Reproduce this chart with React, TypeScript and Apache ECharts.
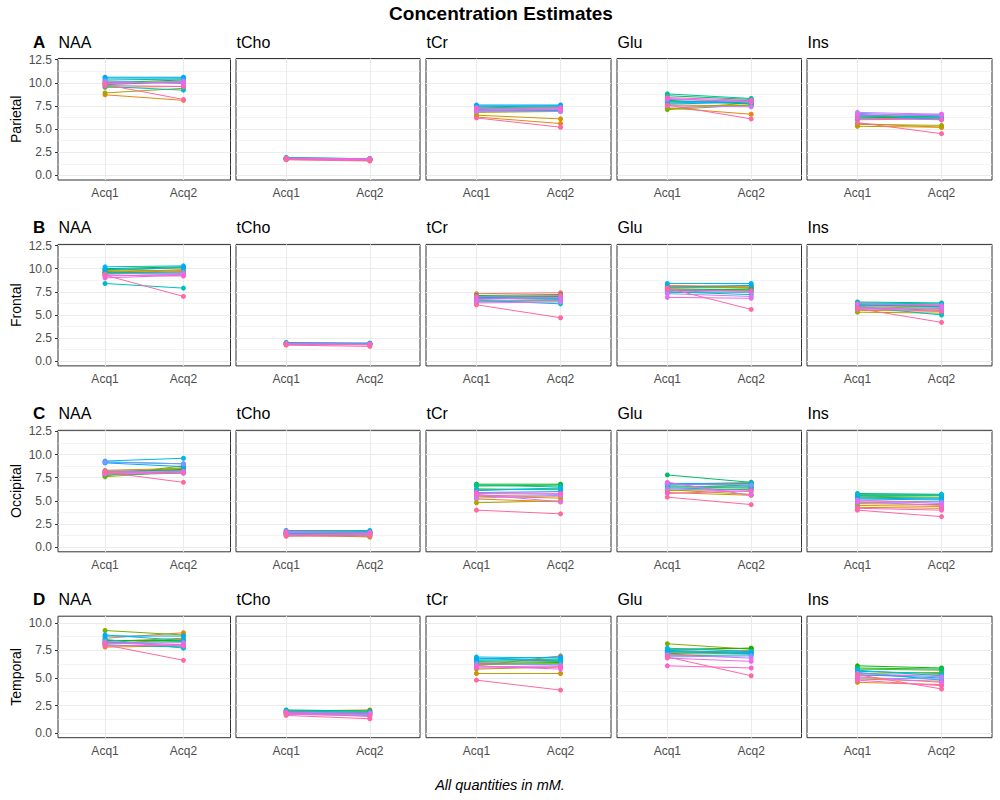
import React, { useEffect, useRef } from "react";
import * as echarts from "echarts";

// ---------- labels ----------
const TITLE = "Concentration Estimates";
const CAPTION = "All quantities in mM.";
const REGIONS = ["Parietal", "Frontal", "Occipital", "Temporal"];
const TAGS = ["A", "B", "C", "D"];
const METABOLITES = ["NAA", "tCho", "tCr", "Glu", "Ins"];
const ACQ_LABELS = ["Acq1", "Acq2"];
const Y_TICKS_ABC = [0, 2.5, 5, 7.5, 10, 12.5];
const Y_TICKS_D = [0, 2.5, 5, 7.5, 10];
const Y_MINOR_ABC = [1.25, 3.75, 6.25, 8.75, 11.25];
const Y_MINOR_D = [1.25, 3.75, 6.25, 8.75];
const N_SUBJECTS = 16;

// ---------- data: [Acq1 values, Acq2 values] per subject ----------
const parietal_NAA = [
  [9.9, 8.7, 9.5, 8.9, 10.1, 10.0, 9.8, 10.3, 9.6, 10.5, 10.6, 10.2, 9.9, 10.0, 9.7, 9.8],
  [10.1, 8.1, 9.6, 9.4, 10.0, 10.3, 10.1, 10.4, 9.2, 10.5, 10.6, 9.9, 10.2, 10.0, 9.6, 8.2],
];
const parietal_tCho = [
  [1.8, 1.7, 1.8, 1.75, 1.85, 1.9, 1.8, 1.75, 1.8, 1.85, 1.9, 1.8, 1.75, 1.85, 1.8, 1.7],
  [1.7, 1.6, 1.75, 1.7, 1.75, 1.8, 1.7, 1.7, 1.75, 1.8, 1.8, 1.7, 1.65, 1.8, 1.7, 1.55],
];
const parietal_tCr = [
  [6.9, 6.3, 6.5, 6.8, 7.0, 7.2, 7.4, 7.3, 7.1, 7.5, 7.6, 7.0, 6.9, 7.3, 7.2, 6.2],
  [7.0, 5.6, 6.1, 6.9, 7.1, 7.3, 7.5, 7.4, 7.0, 7.5, 7.6, 7.2, 6.9, 7.1, 7.3, 5.2],
];
const parietal_Glu = [
  [7.9, 7.3, 7.6, 7.2, 7.1, 8.1, 8.6, 8.8, 7.8, 8.0, 7.7, 8.2, 7.5, 8.3, 8.4, 7.6],
  [8.0, 6.6, 7.5, 7.8, 7.6, 7.7, 8.2, 8.3, 8.1, 7.8, 7.9, 8.0, 7.4, 7.9, 8.1, 6.1],
];
const parietal_Ins = [
  [6.0, 5.6, 5.3, 5.5, 6.3, 6.2, 6.5, 6.4, 6.3, 6.6, 6.1, 6.7, 6.8, 6.5, 6.2, 5.7],
  [6.1, 5.2, 5.2, 5.4, 6.2, 6.4, 6.3, 6.3, 6.5, 6.0, 6.2, 6.4, 6.6, 6.6, 6.0, 4.5],
];

const frontal_NAA = [
  [9.5, 9.7, 9.6, 9.9, 9.8, 10.0, 9.6, 9.5, 8.4, 10.2, 9.9, 9.4, 9.2, 9.0, 9.3, 9.3],
  [9.8, 9.5, 9.9, 9.7, 10.1, 10.2, 9.6, 9.4, 7.9, 10.3, 10.1, 9.6, 9.4, 9.3, 9.2, 7.0],
];
const frontal_tCho = [
  [1.9, 1.8, 1.9, 1.8, 1.85, 1.95, 1.9, 2.0, 1.85, 1.9, 2.0, 1.8, 1.9, 1.85, 1.9, 1.75],
  [1.85, 1.8, 1.85, 1.8, 1.9, 1.9, 1.85, 1.95, 1.8, 1.9, 1.95, 1.8, 1.85, 1.8, 1.85, 1.6],
];
const frontal_tCr = [
  [7.3, 6.8, 6.5, 6.4, 6.9, 7.1, 7.0, 6.7, 6.6, 6.8, 6.9, 6.5, 6.3, 6.7, 7.0, 6.1],
  [7.4, 6.7, 6.5, 6.6, 7.0, 7.2, 7.0, 6.9, 6.2, 6.7, 6.8, 6.6, 6.4, 6.9, 7.1, 4.7],
];
const frontal_Glu = [
  [8.2, 8.1, 8.0, 7.9, 7.7, 7.6, 7.8, 7.5, 7.4, 8.4, 8.0, 7.6, 7.3, 6.9, 7.7, 7.9],
  [8.0, 8.1, 7.9, 8.0, 7.6, 7.8, 7.7, 7.2, 7.5, 8.4, 8.2, 7.4, 7.0, 6.8, 7.6, 5.6],
];
const frontal_Ins = [
  [6.2, 5.9, 5.5, 5.3, 5.8, 6.1, 6.4, 6.0, 5.9, 6.3, 6.1, 5.6, 5.8, 6.2, 5.7, 5.7],
  [6.1, 5.7, 5.4, 5.2, 5.5, 5.9, 6.3, 5.9, 5.0, 6.2, 6.0, 5.8, 5.6, 6.0, 5.4, 4.2],
];

const occipital_NAA = [
  [8.0, 8.3, 7.9, 7.6, 7.7, 8.1, 7.8, 8.2, 9.2, 9.3, 9.1, 9.2, 8.0, 7.9, 8.2, 8.1],
  [8.1, 8.5, 8.6, 8.2, 8.8, 8.4, 8.0, 8.3, 9.0, 9.6, 8.7, 9.0, 8.2, 8.0, 8.1, 7.0],
];
const occipital_tCho = [
  [1.5, 1.6, 1.2, 1.3, 1.4, 1.7, 1.5, 1.6, 1.4, 1.8, 1.5, 1.3, 1.6, 1.4, 1.7, 1.2],
  [1.6, 1.5, 1.3, 1.1, 1.2, 1.6, 1.5, 1.7, 1.4, 1.8, 1.6, 1.4, 1.5, 1.3, 1.6, 1.2],
];
const occipital_tCr = [
  [5.6, 5.2, 5.5, 4.8, 6.3, 6.8, 6.6, 6.7, 6.2, 6.1, 5.9, 5.8, 5.3, 5.7, 5.9, 4.0],
  [5.5, 4.9, 5.3, 5.0, 6.2, 6.8, 6.7, 6.5, 6.3, 6.4, 6.0, 5.7, 5.6, 4.9, 5.8, 3.6],
];
const occipital_Glu = [
  [6.8, 6.1, 5.9, 6.2, 6.5, 6.9, 7.8, 6.7, 6.4, 6.6, 6.9, 6.8, 6.3, 7.0, 5.8, 5.4],
  [7.0, 6.3, 5.6, 5.7, 6.4, 6.6, 7.0, 6.9, 6.2, 6.5, 6.8, 6.7, 6.0, 5.6, 6.1, 4.6],
];
const occipital_Ins = [
  [5.0, 4.5, 4.3, 4.7, 5.5, 5.6, 5.8, 5.4, 5.2, 5.7, 5.3, 4.8, 5.1, 4.9, 4.2, 4.0],
  [4.9, 4.4, 4.2, 4.6, 5.4, 5.6, 5.7, 5.3, 5.1, 5.7, 5.2, 4.9, 4.7, 4.5, 4.0, 3.3],
];

const temporal_NAA = [
  [8.1, 8.6, 7.8, 8.3, 9.3, 8.4, 8.2, 8.0, 8.5, 8.9, 8.8, 8.3, 8.1, 8.2, 7.9, 8.0],
  [8.5, 9.1, 7.9, 8.6, 8.9, 8.4, 8.3, 7.8, 7.7, 8.4, 8.8, 8.0, 8.2, 7.9, 8.0, 6.6],
];
const temporal_tCho = [
  [1.9, 2.0, 1.8, 1.7, 1.9, 2.0, 2.1, 1.9, 1.8, 2.0, 1.9, 1.8, 1.7, 1.9, 1.8, 1.6],
  [1.8, 2.1, 1.9, 1.6, 1.8, 2.0, 2.0, 1.8, 1.7, 1.9, 1.8, 1.7, 1.6, 1.8, 1.5, 1.3],
];
const temporal_tCr = [
  [6.4, 6.1, 5.4, 5.8, 6.2, 6.3, 6.5, 6.6, 6.8, 6.9, 6.7, 6.3, 6.0, 6.1, 5.9, 4.8],
  [6.5, 7.0, 5.4, 6.0, 6.3, 6.4, 6.6, 6.7, 6.5, 6.8, 6.9, 6.2, 6.1, 5.8, 6.0, 3.9],
];
const temporal_Glu = [
  [7.3, 7.5, 7.1, 7.4, 8.1, 7.6, 7.2, 7.0, 7.5, 7.7, 7.4, 6.9, 7.1, 6.8, 6.1, 6.9],
  [7.5, 7.7, 7.3, 7.2, 7.6, 7.7, 7.4, 7.1, 7.3, 7.4, 7.2, 7.0, 6.8, 6.5, 5.9, 5.2],
];
const temporal_Ins = [
  [5.2, 4.6, 4.9, 5.4, 5.8, 6.1, 5.9, 5.6, 5.3, 5.7, 5.5, 5.0, 5.4, 5.1, 4.8, 5.3],
  [5.3, 4.4, 4.7, 5.5, 5.7, 5.9, 5.8, 5.4, 5.0, 5.2, 4.8, 4.9, 5.1, 4.6, 4.3, 4.0],
];

const DATA = [
  [parietal_NAA, parietal_tCho, parietal_tCr, parietal_Glu, parietal_Ins],
  [frontal_NAA, frontal_tCho, frontal_tCr, frontal_Glu, frontal_Ins],
  [occipital_NAA, occipital_tCho, occipital_tCr, occipital_Glu, occipital_Ins],
  [temporal_NAA, temporal_tCho, temporal_tCr, temporal_Glu, temporal_Ins],
];

// ---------- layout ----------
const FONT = '"Liberation Sans", Arial, Helvetica, sans-serif';
const COL_LEFT = [58, 236, 426, 617, 807];
const COL_W = [172.5, 184, 185, 184.5, 185];
const ROW_TOP = [58.5, 244.4, 430.3, 616.2];
const ROW_H = 121.5;
const Y_RANGE = [
  [-0.5, 12.62],
  [-0.5, 12.62],
  [-0.5, 12.62],
  [-0.42, 10.6],
];

function hclHex(h: number, c: number, l: number): string {
  const hr = (h * Math.PI) / 180;
  const U = c * Math.cos(hr);
  const V = c * Math.sin(hr);
  const Xn = 0.95047, Yn = 1, Zn = 1.08883;
  const d = Xn + 15 * Yn + 3 * Zn;
  const un = (4 * Xn) / d;
  const vn = (9 * Yn) / d;
  const Y = l > 8 ? Math.pow((l + 16) / 116, 3) : l / 903.3;
  const u = U / (13 * l) + un;
  const v = V / (13 * l) + vn;
  const X = (Y * 9 * u) / (4 * v);
  const Z = (Y * (12 - 3 * u - 20 * v)) / (4 * v);
  const lin = [
    3.240479 * X - 1.53715 * Y - 0.498535 * Z,
    -0.969256 * X + 1.875992 * Y + 0.041556 * Z,
    0.055648 * X - 0.204043 * Y + 1.057311 * Z,
  ];
  return (
    "#" +
    lin
      .map((t) => {
        let g = t <= 0.0031308 ? 12.92 * t : 1.055 * Math.pow(t, 1 / 2.4) - 0.055;
        g = Math.max(0, Math.min(1, g));
        return Math.round(g * 255).toString(16).padStart(2, "0");
      })
      .join("")
  );
}

const COLORS = Array.from({ length: N_SUBJECTS }, (_, i) =>
  hclHex(15 + (360 * i) / N_SUBJECTS, 100, 65)
);

function buildOption() {
  const grids: any[] = [];
  const xAxes: any[] = [];
  const yAxes: any[] = [];
  const series: any[] = [];
  const graphics: any[] = [];

  graphics.push({
    type: "text",
    x: 501,
    y: 13,
    style: {
      text: TITLE,
      font: `bold 19px ${FONT}`,
      fill: "#000",
      align: "center",
      verticalAlign: "middle",
    },
  });
  graphics.push({
    type: "text",
    x: 500,
    y: 785,
    style: {
      text: CAPTION,
      font: `italic 14.5px ${FONT}`,
      fill: "#000",
      align: "center",
      verticalAlign: "middle",
    },
  });

  let k = 0;
  for (let r = 0; r < REGIONS.length; r++) {
    const top = ROW_TOP[r];
    const yMajor = r === 3 ? Y_TICKS_D : Y_TICKS_ABC;
    const yMinor = r === 3 ? Y_MINOR_D : Y_MINOR_ABC;

    graphics.push({
      type: "text",
      x: 33,
      y: top - 16.5,
      style: {
        text: TAGS[r],
        font: `bold 17px ${FONT}`,
        fill: "#000",
        align: "left",
        verticalAlign: "middle",
      },
    });
    graphics.push({
      type: "text",
      x: 15.5,
      y: top + ROW_H / 2,
      rotation: Math.PI / 2,
      style: {
        text: REGIONS[r],
        font: `14px ${FONT}`,
        fill: "#000",
        align: "center",
        verticalAlign: "middle",
      },
    });

    for (let c = 0; c < METABOLITES.length; c++) {
      const left = COL_LEFT[c];
      graphics.push({
        type: "text",
        x: left + 0.5,
        y: top - 16.5,
        style: {
          text: METABOLITES[c],
          font: `16px ${FONT}`,
          fill: "#000",
          align: "left",
          verticalAlign: "middle",
        },
      });

      grids.push({
        left,
        top,
        width: COL_W[c],
        height: ROW_H,
        show: true,
        borderColor: "#333333",
        borderWidth: 1,
        backgroundColor: "#ffffff",
        containLabel: false,
        outerBoundsMode: "none",
      });
      xAxes.push({
        gridIndex: k,
        type: "value",
        min: 0.4,
        max: 2.6,
        axisLine: { show: false },
        splitLine: { show: false },
        axisTick: {
          show: true,
          customValues: [1, 2],
          length: 3,
          lineStyle: { color: "#333333", width: 1 },
        },
        axisLabel: {
          show: true,
          customValues: [1, 2],
          formatter: (v: number) => ACQ_LABELS[Math.round(v) - 1] ?? "",
          color: "#4d4d4d",
          fontSize: 12,
          fontFamily: FONT,
          margin: 7,
        },
      });
      const showY = c === 0;
      yAxes.push({
        gridIndex: k,
        type: "value",
        min: Y_RANGE[r][0],
        max: Y_RANGE[r][1],
        axisLine: { show: false },
        splitLine: { show: false },
        axisTick: {
          show: showY,
          customValues: yMajor,
          length: 3,
          lineStyle: { color: "#333333", width: 1 },
        },
        axisLabel: {
          show: showY,
          customValues: yMajor,
          formatter: (v: number) => v.toFixed(1),
          color: "#4d4d4d",
          fontSize: 12,
          fontFamily: FONT,
          margin: 6,
        },
      });

      // gridlines (theme_bw style)
      const gridData: any[] = [];
      yMinor.forEach((v) =>
        gridData.push({ yAxis: v, lineStyle: { color: "#ebebeb", width: 0.6, type: "solid" } })
      );
      yMajor.forEach((v) =>
        gridData.push({ yAxis: v, lineStyle: { color: "#ebebeb", width: 1.1, type: "solid" } })
      );
      [1, 2].forEach((v) =>
        gridData.push({ xAxis: v, lineStyle: { color: "#ebebeb", width: 1.1, type: "solid" } })
      );
      series.push({
        type: "line",
        xAxisIndex: k,
        yAxisIndex: k,
        data: [],
        silent: true,
        z: 1,
        markLine: {
          silent: true,
          z: 1,
          symbol: ["none", "none"],
          label: { show: false },
          emphasis: { disabled: true },
          data: gridData,
        },
      });

      const pair = DATA[r][c];
      for (let s = 0; s < N_SUBJECTS; s++) {
        series.push({
          type: "line",
          xAxisIndex: k,
          yAxisIndex: k,
          data: [
            [1, pair[0][s]],
            [2, pair[1][s]],
          ],
          symbol: "circle",
          symbolSize: 5,
          showSymbol: true,
          silent: true,
          z: 10,
          lineStyle: { color: COLORS[s], width: 1 },
          itemStyle: { color: COLORS[s] },
          emphasis: { disabled: true },
        });
      }
      k++;
    }
  }

  return {
    animation: false,
    backgroundColor: "#ffffff",
    textStyle: { fontFamily: FONT },
    grid: grids,
    xAxis: xAxes,
    yAxis: yAxes,
    series,
    graphic: { elements: graphics },
  };
}

export default function App() {
  const ref = useRef<HTMLDivElement>(null);
  useEffect(() => {
    document.body.style.margin = "0";
    if (!ref.current) return;
    const chart = echarts.init(ref.current, undefined, { renderer: "svg" });
    chart.setOption(buildOption() as any);
    return () => chart.dispose();
  }, []);
  return <div ref={ref} style={{ width: 1000, height: 800 }} />;
}
